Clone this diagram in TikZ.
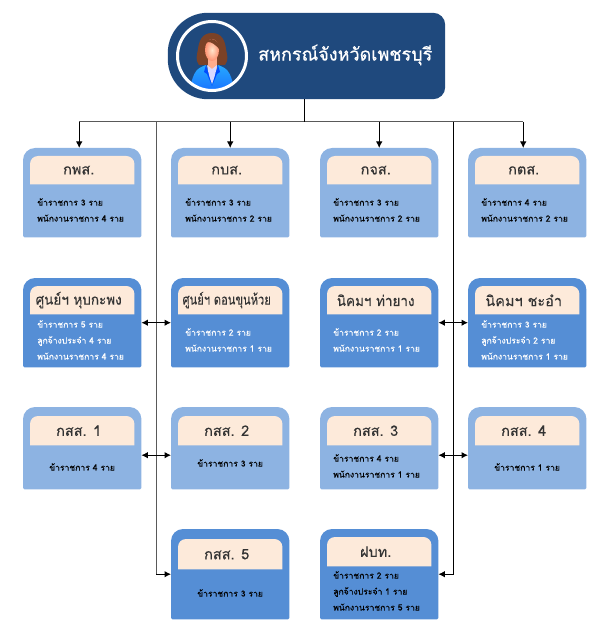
\documentclass[tikz,border=0pt]{standalone}
\usepackage{fontspec}
\setmainfont[Script=Thai]{Loma}
\newfontfamily\bodyfont[Script=Thai,FakeBold=0.25]{Loma}
\newfontfamily\hqfont[Script=Thai,FakeBold=0.7]{Loma}
\usetikzlibrary{arrows.meta}
\definecolor{hqblue}{HTML}{1F497D}
\definecolor{lightblue}{HTML}{8DB3E2}
\definecolor{darkblue}{HTML}{558ED5}
\definecolor{headpeach}{HTML}{FDEADA}
\definecolor{hairbrown}{HTML}{7B4227}
\tikzset{
	area/.style={inner sep=0, minimum width=#1},
	titletext/.style={font=\bodyfont\fontsize{14.5}{16}\selectfont, text=black!80},
	bodytext/.style={font=\bodyfont\fontsize{8.6}{16}\selectfont, align=left, inner sep=0, anchor=west},
	whitetext/.style={bodytext, text=white},
	link/.style={line width=1pt, black, >={Latex[length=6.5pt,width=6.5pt]}},
	graylink/.style={line width=1pt, black!65},
}
% name, box colour, (left,top,height), (head top,head height)
\def\orgbox[#1](#2)(#3,#4,#5)(#6,#7)#8{
	\node[area=118pt, minimum height=#5pt, anchor=north west] (#2) at (#3,#4) {};
	\fill[#1] (#2.west) [rounded corners=12pt] -- (#2.north west) -- (#2.north east) -- (#2.east)
		[rounded corners=1.5pt] -- (#2.south east) -- (#2.south west) -- cycle;
	\node[area=104pt, minimum height=#7pt, anchor=north] (#2-head) at (#2.north |- 0,#6) {};
	\fill[headpeach] (#2-head.south west) [rounded corners=8pt] -- (#2-head.north west) -- (#2-head.north east)
		[sharp corners] -- (#2-head.south east) -- cycle;
	\node[titletext] (#2-title) at ([xshift=-3.5pt]#2-head.center) {#8};
}
\begin{document}
\begin{tikzpicture}[x=1pt, y=-1pt]
	%%%%% START %%%%%
	\useasboundingbox (0,0) rectangle (612,631);

	% top box
	\node[area=277pt, minimum height=86pt] (hq) at (306.5,56) {};
	\fill[hqblue] (hq.north) [rounded corners=40pt] -- (hq.north west) -- (hq.south west) -- (hq.south)
		[rounded corners=12pt] -- (hq.south east) -- (hq.north east) -- cycle;
	\node[font=\hqfont\fontsize{18}{20}\selectfont, text=white, inner sep=0, anchor=west] (hq-title) at (258,55) {สหกรณ์จังหวัดเพชรบุรี};

	% person in the circle
	\begin{scope}
		\clip (212,56) circle (34.5);
		\fill[hairbrown] (212,33) .. controls (202,33) and (199,41) .. (198,49) .. controls (197,55) and (195,60) .. (199,65)
			-- (225,65) .. controls (229,60) and (227,55) .. (226,49) .. controls (225,41) and (222,33) .. (212,33) -- cycle;
		\fill[orange!55!red!45] (207.5,56) rectangle (216.5,70);
		\shade[inner color=white!80!orange, outer color=orange!45!red!55] (212,50) ellipse (7 and 11);
		\fill[hairbrown] (204,50) .. controls (204,41) and (210,38) .. (220,50) .. controls (219,36) and (204,35) .. (204,50) -- cycle;
		\shade[top color=cyan!60!blue!85, bottom color=blue!60!cyan!90] (206,65) .. controls (198,68) and (193,70) .. (190,90)
			-- (234,90) .. controls (231,70) and (226,68) .. (218,65) -- (212,84) -- cycle;
		\fill[white!85!blue] (207,65) -- (212,69) -- (217,65) -- (215,76) -- (212,84) -- (209,76) -- cycle;
		\fill[blue!70!cyan] (206,65) -- (204,72) -- (207,74) -- (212,86) -- cycle;
		\fill[blue!70!cyan] (218,65) -- (220,72) -- (217,74) -- (212,86) -- cycle;
	\end{scope}
	\draw[white, line width=3pt] (212,56) circle (34.5);

	% first row
	\orgbox[lightblue](kps)(23,148,89)(156,28){กพส.}
	\orgbox[lightblue](kbs)(171,148,89)(156,28){กบส.}
	\orgbox[lightblue](kjs)(320,148,89)(156,28){กจส.}
	\orgbox[lightblue](kts)(468,148,89)(156,28){กตส.}
	\node[bodytext] (kps-text) at (37,210) {ข้าราชการ 3 ราย\\พนักงานราชการ 4 ราย};
	\node[bodytext] (kbs-text) at (185,210) {ข้าราชการ 3 ราย\\พนักงานราชการ 2 ราย};
	\node[bodytext] (kjs-text) at (333,210) {ข้าราชการ 3 ราย\\พนักงานราชการ 2 ราย};
	\node[bodytext] (kts-text) at (481,210) {ข้าราชการ 4 ราย\\พนักงานราชการ 2 ราย};

	% second row
	\orgbox[darkblue](hub)(23,278,89)(286,28){\scalebox{.93}[1]{ศูนย์ฯ หุบกะพง}}
	\orgbox[darkblue](don)(171,278,89)(286,28){\scalebox{.77}[1]{ศูนย์ฯ ดอนขุนห้วย}}
	\orgbox[darkblue](tha)(320,278,89)(286,28){\scalebox{.93}[1]{นิคมฯ ท่ายาง}}
	\orgbox[darkblue](cha)(468,278,89)(286,28){นิคมฯ ชะอำ}
	\node[whitetext] (hub-text) at (37,340) {ข้าราชการ 5 ราย\\ลูกจ้างประจำ 4 ราย\\พนักงานราชการ 4 ราย};
	\node[whitetext] (don-text) at (185,340) {ข้าราชการ 2 ราย\\พนักงานราชการ 1 ราย};
	\node[whitetext] (tha-text) at (333,340) {ข้าราชการ 2 ราย\\พนักงานราชการ 1 ราย};
	\node[whitetext] (cha-text) at (481,340) {ข้าราชการ 3 ราย\\ลูกจ้างประจำ 2 ราย\\พนักงานราชการ 1 ราย};

	% third row
	\orgbox[lightblue](kss1)(23,407,82)(416,29){กสส. 1}
	\orgbox[lightblue](kss2)(171,407,82)(416,29){กสส. 2}
	\orgbox[lightblue](kss3)(320,407,82)(416,29){กสส. 3}
	\orgbox[lightblue](kss4)(468,407,82)(416,29){กสส. 4}
	\node[bodytext] (kss1-text) at (49,467) {ข้าราชการ 4 ราย};
	\node[bodytext] (kss2-text) at (197,463) {ข้าราชการ 3 ราย};
	\node[bodytext] (kss3-text) at (333,466) {ข้าราชการ 4 ราย\\พนักงานราชการ 1 ราย};
	\node[bodytext] (kss4-text) at (494,467) {ข้าราชการ 1 ราย};

	% last row
	\orgbox[darkblue](kss5)(171,529,90)(539,30){กสส. 5}
	\orgbox[darkblue](fbt)(320,529,90)(537,29){ฝบท.}
	\node[bodytext] (kss5-text) at (197,593) {ข้าราชการ 3 ราย};
	\node[bodytext] (fbt-text) at (333,591) {ข้าราชการ 2 ราย\\ลูกจ้างประจำ 1 ราย\\พนักงานราชการ 5 ราย};

	% connectors
	\coordinate (bus) at (304,122);
	\coordinate (trunkl) at (156,122);
	\coordinate (trunkr) at (453,122);
	\draw[graylink] ([xshift=-3pt]kps.north |- bus) -- ([xshift=-4pt]kts.north |- bus);
	\draw[link] (hq.south -| bus) -- (bus);
	\draw[link,->] ([xshift=-3pt]kps.north |- bus) -- ([xshift=-3pt]kps.north);
	\draw[link,->] (kbs.north |- bus) -- (kbs.north);
	\draw[link,->] (kjs.north |- bus) -- (kjs.north);
	\draw[link,->] ([xshift=-4pt]kts.north |- bus) -- ([xshift=-4pt]kts.north);
	\draw[graylink] (trunkl) -- (trunkl |- kss5.west);
	\draw[link,->] (trunkl |- kss5.west) -- (kss5.west);
	\draw[link,->] (trunkr) |- (fbt.east);
	\draw[link,<->] (hub.east) -- (don.west);
	\draw[link,<->] (tha.east) -- (cha.west);
	\draw[link,<->] ([yshift=-7pt]kss1.east) -- ([yshift=-7pt]kss2.west);
	\draw[link,<->] ([yshift=-7pt]kss3.east) -- ([yshift=-7pt]kss4.west);
	%%%%% END %%%%%
\end{tikzpicture}
\end{document}
